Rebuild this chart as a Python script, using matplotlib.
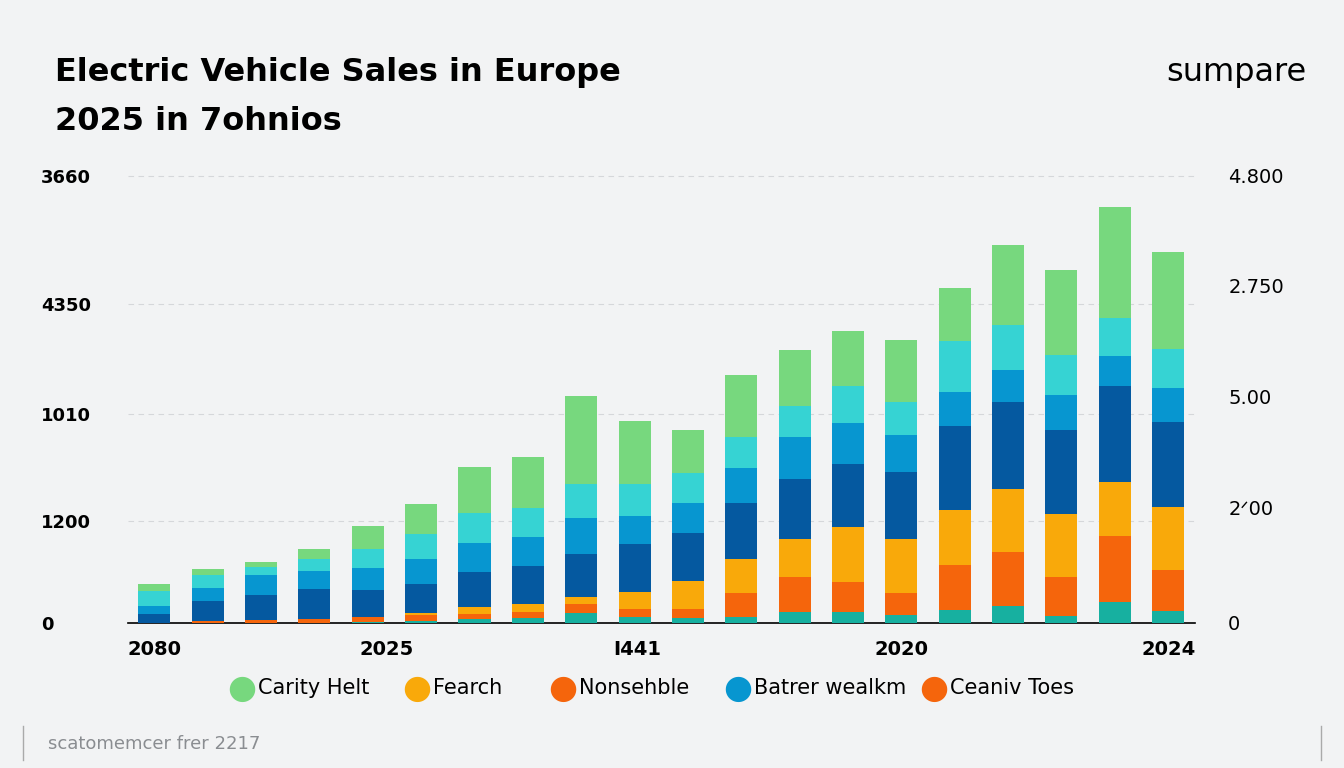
import matplotlib.pyplot as plt
import numpy as np

# segment heights per bar, bottom to top
teal   = [0, 0, 0, 0, 1, 2, 4, 5, 10, 6, 5, 6, 11, 11, 8, 13, 17, 7, 21, 12]
red    = [0, 2, 3, 4, 5, 6, 5, 6, 9, 8, 9, 24, 35, 30, 22, 45, 54, 39, 66, 41]
yellow = [0, 0, 0, 0, 0, 2, 7, 8, 7, 17, 28, 34, 38, 55, 54, 55, 63, 63, 54, 63]
dblue  = [9, 20, 25, 30, 27, 29, 35, 38, 43, 48, 48, 56, 60, 63, 67, 84, 87, 84, 96, 85]
blue   = [8, 13, 20, 18, 22, 25, 29, 29, 36, 28, 30, 35, 42, 41, 37, 34, 32, 35, 30, 34]
cyan   = [15, 13, 8, 12, 19, 25, 30, 29, 34, 32, 30, 31, 31, 37, 33, 51, 45, 40, 38, 39]
green  = [7, 6, 5, 10, 23, 30, 46, 51, 88, 63, 43, 62, 56, 55, 62, 53, 80, 85, 111, 97]

series = [teal, red, yellow, dblue, blue, cyan, green]
colors = ['#17b0a0', '#f5650c', '#f9a90a', '#0559a0', '#0796d0', '#36d3d3', '#77d87e']

xtick_pos = [0, 4.35, 9.05, 14, 19]
xtick_labels = ['2080', '2025', 'I441', '2020', '2024']
left_pos = [0, 102, 209, 319, 447]
left_labels = ['0', '1200', '1010', '4350', '3660']
right_pos = [0, 115, 226, 337, 447]
right_labels = ['0', '2ᐟ00', '5.00', '2.750', '4.800']

legend_names = ['Carity Helt', 'Fearch', 'Nonsehble', 'Batrer wealkm', 'Ceaniv Toes']
legend_colors = ['#77d87e', '#f9a90a', '#f5650c', '#0796d0', '#f5650c']

bg = '#f2f3f4'
fig = plt.figure(figsize=(13.44, 7.68), dpi=100, facecolor=bg)
ax = fig.add_axes([0.095, 0.189, 0.794, 0.599], facecolor=bg)

x = np.arange(len(green))
bottom = np.zeros(len(x))
for vals, c in zip(series, colors):
    ax.bar(x, vals, width=0.6, bottom=bottom, color=c, zorder=3)
    bottom += np.array(vals)

ax.set_xlim(-0.5, 19.5)
ax.set_ylim(0, 460)
for s in ['top', 'right', 'left']:
    ax.spines[s].set_visible(False)
ax.spines['bottom'].set_color('black')
ax.spines['bottom'].set_linewidth(1.2)
ax.set_xticks(xtick_pos)
ax.set_xticklabels(xtick_labels, fontsize=14, fontweight='bold')
ax.set_yticks(left_pos)
ax.set_yticklabels(left_labels, fontsize=13, fontweight='bold')
ax.tick_params(length=0, pad=12)
ax.tick_params(axis='y', pad=20)
for y in left_pos[1:]:
    ax.axhline(y, color='#d5d7da', ls=(0, (5, 4)), lw=0.8, zorder=1)
for lab in ax.get_yticklabels():
    lab.set_horizontalalignment('left')
    lab.set_x(-0.055)

ax2 = ax.twinx()
ax2.set_ylim(0, 460)
for s in ax2.spines.values():
    s.set_visible(False)
ax2.set_yticks(right_pos)
ax2.set_yticklabels(right_labels, fontsize=14, family=['DejaVu Sans'])
ax2.tick_params(length=0, pad=24)

fig.text(0.041, 0.905, 'Electric Vehicle Sales in Europe', fontsize=23, fontweight='bold', va='center')
fig.text(0.041, 0.842, '2025 in 7ohnios', fontsize=23, fontweight='bold', va='center')
fig.text(0.972, 0.905, 'sumpare', fontsize=23, ha='right', va='center', fontweight='medium')

lx = [0.180, 0.310, 0.419, 0.549, 0.695]
for px, name, c in zip(lx, legend_names, legend_colors):
    fig.text(px, 0.104, '●', color=c, fontsize=24, ha='center', va='center')
    fig.text(px + 0.012, 0.104, name, fontsize=15, va='center')

fig.text(0.036, 0.031, 'scatomemcer frer 2217', fontsize=13, color='#8a8d91', va='center')
fig.add_artist(plt.Line2D([0.017, 0.017], [0.01, 0.055], color='#aaaaaa', lw=1))
fig.add_artist(plt.Line2D([0.983, 0.983], [0.01, 0.055], color='#aaaaaa', lw=1))

fig.savefig('out.png', dpi=100, facecolor=bg)
